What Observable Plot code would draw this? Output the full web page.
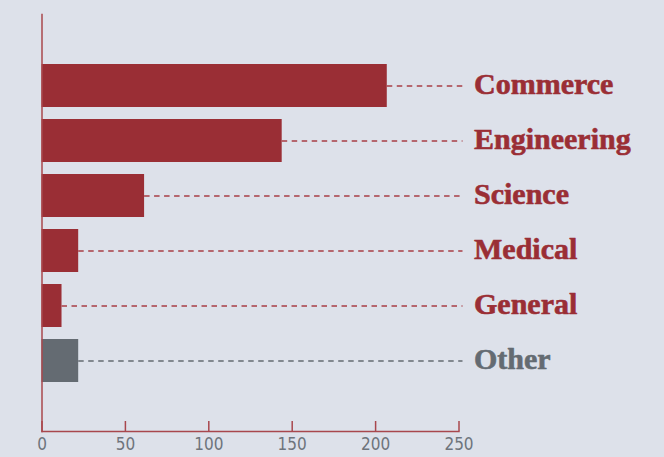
<!DOCTYPE html>
<html><head>
<meta charset="utf-8">
<script src="https://cdn.jsdelivr.net/npm/d3@7"></script>
<script src="https://cdn.jsdelivr.net/npm/@observablehq/plot@0.6"></script>
<style>
html,body{margin:0;padding:0;background:#dde1ea;}
</style>
</head><body><div id="chart"></div>
<script>
const categories = ["Commerce", "Engineering", "Science", "Medical", "General", "Other"];
const values = [207, 144, 61.5, 22, 12, 22];
const groups = ["main", "main", "main", "main", "main", "other"];
const xTicks = [0, 50, 100, 150, 200, 250];

const data = categories.map((c, i) => ({category: c, value: values[i], group: groups[i]}));
const RED = "#9a2e35", GREY = "#646b72", AXIS = "#a8474d", TICKTEXT = "#6e747c";
const DASH = ["#a83e45", "#646b72"];

const chart = Plot.plot({
  width: 664, height: 457,
  marginTop: 14, marginBottom: 26, marginLeft: 41.5, marginRight: 205.5,
  style: {background: "#dde1ea"},
  x: {domain: [0, 250], ticks: xTicks},
  y: {domain: categories, insetTop: 37, insetBottom: 36, padding: 0.22, axis: null},
  color: {domain: ["main", "other"], range: [RED, GREY]},
  marks: [
    Plot.barX(data, {y: "category", x: "value", fill: "group"}),
    Plot.ruleY(data, {y: "category", x1: "value", x2: 250, insetRight: -4,
      stroke: d => DASH[d.group === "other" ? 1 : 0],
      strokeDasharray: "5.5,4.5", strokeWidth: 1.4}),
    Plot.text(data, {y: "category", text: "category", frameAnchor: "right", dx: 15, textAnchor: "start",
      fill: "group", fontSize: 30, fontWeight: "bold", fontFamily: "Liberation Serif", dy: -2,
      stroke: "group", strokeWidth: 0.6}),
    Plot.frame({anchor: "left", stroke: AXIS, strokeWidth: 1.5}),
    Plot.frame({anchor: "bottom", stroke: AXIS, strokeWidth: 1.5}),
    Plot.tickX(xTicks, {x: d => d, stroke: AXIS, strokeWidth: 1.5, insetTop: 407}),
    Plot.axisX({tickSize: 0, tickPadding: 6, fontSize: 17, fill: TICKTEXT,
      fontFamily: "DejaVu Sans Condensed", label: null})
  ]
});
document.getElementById("chart").append(chart);
</script>
</body></html>
